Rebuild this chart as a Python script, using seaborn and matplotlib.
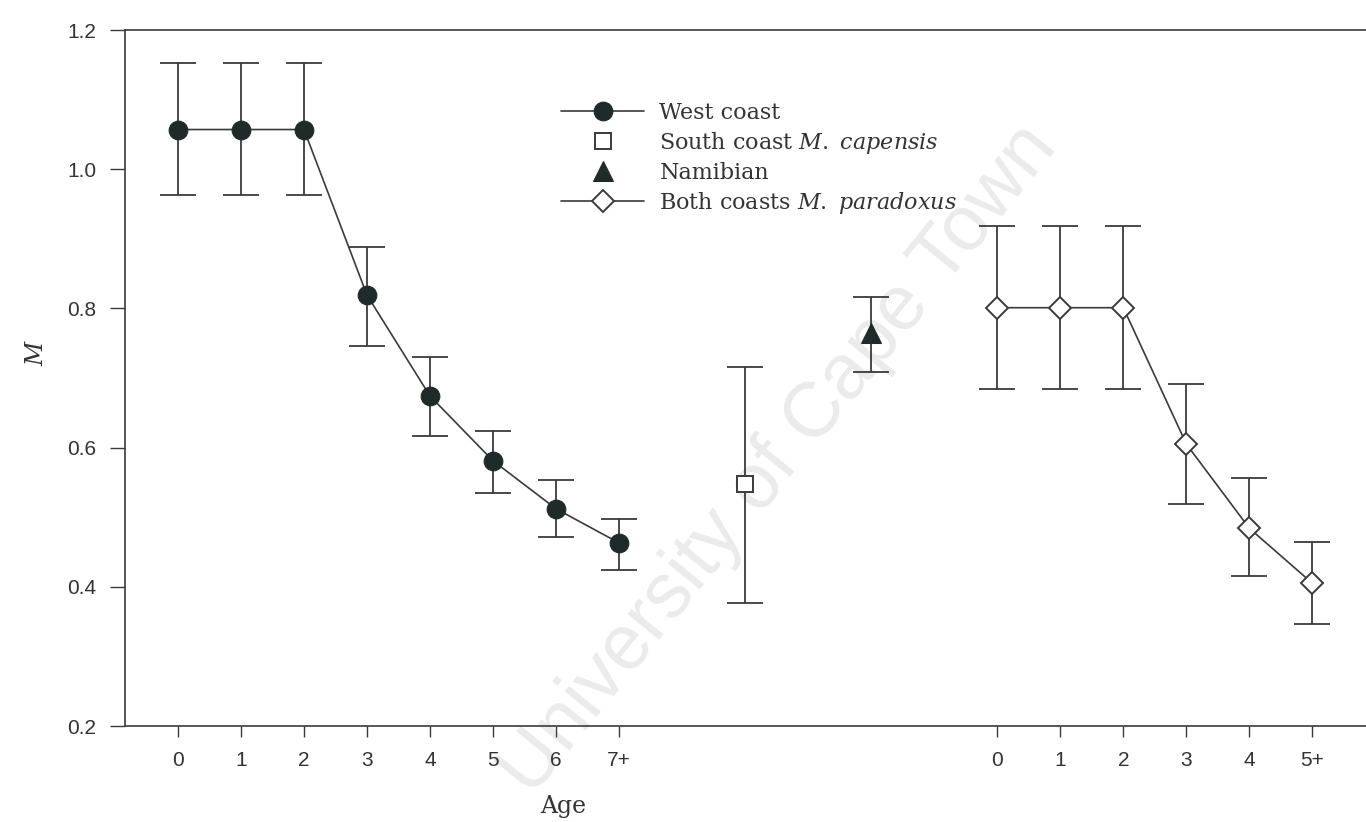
import numpy as np
import pandas as pd
import matplotlib
matplotlib.use("Agg")
import matplotlib.pyplot as plt
import seaborn as sns

# ---------------- data ----------------
west_ages = ["0", "1", "2", "3", "4", "5", "6", "7+"]
west_m = [1.057, 1.057, 1.057, 0.819, 0.674, 0.581, 0.512, 0.463]
west_hi = [1.153, 1.153, 1.153, 0.888, 0.730, 0.624, 0.553, 0.497]
west_lo = [0.963, 0.963, 0.963, 0.746, 0.617, 0.535, 0.472, 0.424]

south_m = [0.548]
south_hi = [0.716]
south_lo = [0.377]

nam_m = [0.764]
nam_hi = [0.816]
nam_lo = [0.709]

both_ages = ["0", "1", "2", "3", "4", "5+"]
both_m = [0.801, 0.801, 0.801, 0.605, 0.484, 0.405]
both_hi = [0.918, 0.918, 0.918, 0.691, 0.556, 0.464]
both_lo = [0.684, 0.684, 0.684, 0.519, 0.416, 0.347]

y_ticks = [0.2, 0.4, 0.6, 0.8, 1.0, 1.2]

# category positions on the shared x axis
west_pos = list(range(len(west_ages)))
south_pos = [9]
nam_pos = [11]
both_pos = list(range(13, 13 + len(both_ages)))

# ---------------- style ----------------
sns.set_style("ticks")
plt.rcParams["font.family"] = ["DejaVu Serif", "Liberation Serif"]
plt.rcParams["mathtext.fontset"] = "custom"
plt.rcParams["mathtext.rm"] = "DejaVu Serif"
plt.rcParams["mathtext.it"] = "DejaVu Serif:italic"

dark = "#1f2a2a"
lc = "#3a3a3a"
tc = "#333333"

fig = plt.figure(figsize=(13.66, 8.22), dpi=100)
ax = fig.add_axes([125 / 1366, 1 - 726 / 822, 1 - 125 / 1366, (726 - 30) / 822])

# watermark (light, beneath the data)
ax.text(779 / 1366, 1 - 460 / 822, "University of Cape Town", rotation=51,
        ha="center", va="center", fontsize=56, color="#ebebeb",
        family="Liberation Sans", zorder=0.5, transform=fig.transFigure,
        clip_on=False)

west = pd.DataFrame({"x": west_pos, "m": west_m})
both = pd.DataFrame({"x": both_pos, "m": both_m})
south = pd.DataFrame({"x": south_pos, "m": south_m})
nam = pd.DataFrame({"x": nam_pos, "m": nam_m})

def ebar(pos, m, lo, hi):
    m = np.asarray(m); lo = np.asarray(lo); hi = np.asarray(hi)
    ax.errorbar(pos, m, yerr=[m - lo, hi - m], fmt="none", ecolor=lc,
                elinewidth=1.3, capsize=13, capthick=1.3, zorder=2)

ebar(west_pos, west_m, west_lo, west_hi)
ebar(south_pos, south_m, south_lo, south_hi)
ebar(nam_pos, nam_m, nam_lo, nam_hi)
ebar(both_pos, both_m, both_lo, both_hi)

sns.lineplot(data=west, x="x", y="m", ax=ax, color=lc, linewidth=1.2,
             marker="o", markersize=13.5, markerfacecolor=dark,
             markeredgecolor=dark, label="West coast", zorder=3)
sns.lineplot(data=south, x="x", y="m", ax=ax, linestyle="none",
             marker="s", markersize=12, markerfacecolor="white",
             markeredgecolor=lc, markeredgewidth=1.4,
             label="South coast $\\mathit{M.\\ capensis}$", zorder=3)
sns.lineplot(data=nam, x="x", y="m", ax=ax, linestyle="none",
             marker="^", markersize=15, markerfacecolor=dark,
             markeredgecolor=dark, label="Namibian", zorder=3)
sns.lineplot(data=both, x="x", y="m", ax=ax, color=lc, linewidth=1.2,
             marker="D", markersize=11, markerfacecolor="white",
             markeredgecolor=lc, markeredgewidth=1.4,
             label="Both coasts $\\mathit{M.\\ paradoxus}$", zorder=3)

ax.set_xlim(-0.84, 18.85)
ax.set_ylim(0.2, 1.2)
ax.set_xticks(west_pos + both_pos)
ax.set_xticklabels(west_ages + both_ages)
ax.set_yticks(y_ticks)
ax.set_yticklabels([f"{v:.1f}" for v in y_ticks])
for lab in ax.get_xticklabels() + ax.get_yticklabels():
    lab.set_family("Liberation Sans")
    lab.set_color(tc)
ax.tick_params(axis="x", length=8, width=1.0, pad=10, labelsize=15, color=lc)
ax.tick_params(axis="y", length=11, width=1.0, pad=9.5, labelsize=15, color=lc)

for s in ["left", "top", "bottom"]:
    ax.spines[s].set_visible(True)
    ax.spines[s].set_color(lc)
    ax.spines[s].set_linewidth(1.2)
ax.spines["right"].set_visible(False)

ax.set_xlabel("Age", fontsize=17, color=tc)
ax.xaxis.set_label_coords((563 - 125) / 1241, -(795 - 726) / 696)
ax.set_ylabel("$\\mathit{M}$", fontsize=17, color=tc)
ax.yaxis.set_label_coords((37 - 125) / 1241, (726 - 352) / 696)
ax.yaxis.label.set_va("center")

leg = ax.legend(loc="upper left", bbox_to_anchor=((561 - 125) / 1241, (726 - 102) / 696),
                frameon=False, fontsize=16, handlelength=3.75, handletextpad=0.68,
                borderpad=0, borderaxespad=0, labelspacing=0.27)
for t in leg.get_texts():
    t.set_color(tc)

fig.savefig("out.png", dpi=100)
